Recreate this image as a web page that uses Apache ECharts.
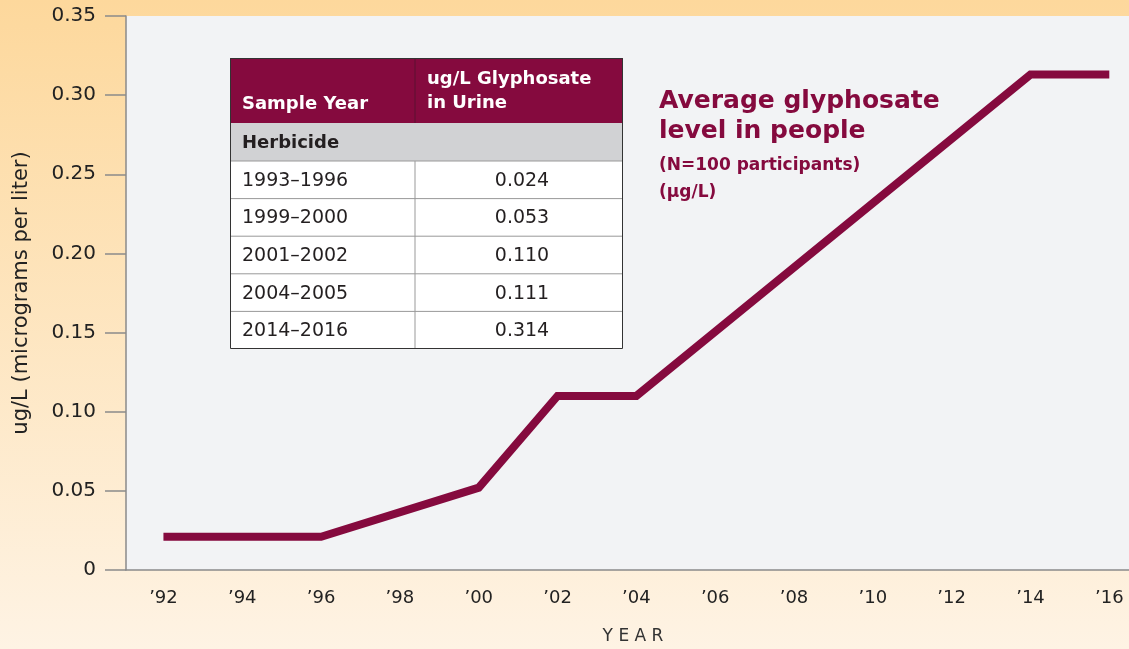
<!DOCTYPE html>
<html><head><meta charset="utf-8">
<script src="https://cdn.jsdelivr.net/npm/echarts@6/dist/echarts.min.js"></script>
<style>html,body{margin:0;padding:0;}#c{width:1129px;height:649px;}</style>
</head><body><div id="c"></div>
<script>
// ---- data ----
var years = [1992, 1996, 2000, 2002, 2004, 2014, 2016];
var levels = [0.021, 0.021, 0.052, 0.110, 0.110, 0.313, 0.313];
var xTickYears = [1992, 1994, 1996, 1998, 2000, 2002, 2004, 2006, 2008, 2010, 2012, 2014, 2016];
var tableHeaders = ['Sample Year', 'ug/L Glyphosate\nin Urine'];
var tableGroup = 'Herbicide';
var tableYears = ['1993–1996', '1999–2000', '2001–2002', '2004–2005', '2014–2016'];
var tableValues = [0.024, 0.053, 0.110, 0.111, 0.314];
var noteLines = ['Average glyphosate', 'level in people', '(N=100 participants)', '(µg/L)'];

var MAROON = '#850A3E';
var FONT = '"DejaVu Sans", sans-serif';

// ---- table graphic ----
var tL = 230, tR = 623, tM = 415, tTop = 58, hBot = 123, gBot = 161, rowH = 37.6;
var children = [];
children.push({type:'rect', shape:{x:tL, y:tTop, width:tR-tL, height:hBot-tTop}, style:{fill:MAROON}});
children.push({type:'rect', shape:{x:tL, y:hBot, width:tR-tL, height:gBot-hBot}, style:{fill:'#D1D2D4'}});
children.push({type:'rect', shape:{x:tL, y:gBot, width:tR-tL, height:rowH*tableYears.length}, style:{fill:'#FFFFFF'}});
children.push({type:'line', shape:{x1:tM, y1:tTop, x2:tM, y2:hBot}, style:{stroke:'#5a1030', lineWidth:1}});
children.push({type:'line', shape:{x1:tM, y1:gBot, x2:tM, y2:gBot+rowH*tableYears.length}, style:{stroke:'#999', lineWidth:1}});
children.push({type:'text', style:{x:tL+12, y:104, text:tableHeaders[0], fill:'#fff', font:'bold 18px '+FONT, textVerticalAlign:'middle'}});
children.push({type:'text', style:{x:tM+12, y:91, text:tableHeaders[1], fill:'#fff', font:'bold 18px '+FONT, textVerticalAlign:'middle', lineHeight:24}});
children.push({type:'text', style:{x:tL+12, y:(hBot+gBot)/2+1, text:tableGroup, fill:'#231F20', font:'bold 18px '+FONT, textVerticalAlign:'middle'}});
for (var i=0;i<tableYears.length;i++){
  var ry = gBot + rowH*i;
  if (i>0) children.push({type:'line', shape:{x1:tL, y1:ry, x2:tR, y2:ry}, style:{stroke:'#999', lineWidth:1}});
  children.push({type:'text', style:{x:tL+12, y:ry+rowH/2+1, text:tableYears[i], fill:'#231F20', font:'19px '+FONT, textVerticalAlign:'middle'}});
  children.push({type:'text', style:{x:(tM+tR)/2+3, y:ry+rowH/2+1, text:tableValues[i].toFixed(3), fill:'#231F20', font:'19px '+FONT, textAlign:'center', textVerticalAlign:'middle'}});
}
children.push({type:'line', shape:{x1:tL, y1:gBot, x2:tR, y2:gBot}, style:{stroke:'#999', lineWidth:1}});
children.push({type:'rect', shape:{x:tL+0.5, y:tTop+0.5, width:tR-tL-1, height:gBot+rowH*tableYears.length-tTop-1}, style:{fill:'none', stroke:'#333', lineWidth:1}});

// ---- annotation ----
children.push({type:'text', style:{x:659, y:101, text:noteLines[0], fill:MAROON, font:'bold 25px '+FONT, textVerticalAlign:'middle'}});
children.push({type:'text', style:{x:659, y:131, text:noteLines[1], fill:MAROON, font:'bold 25px '+FONT, textVerticalAlign:'middle'}});
children.push({type:'text', style:{x:659, y:166, text:noteLines[2], fill:MAROON, font:'bold 17px '+FONT, textVerticalAlign:'middle'}});
children.push({type:'text', style:{x:659, y:193, text:noteLines[3], fill:MAROON, font:'bold 17px '+FONT, textVerticalAlign:'middle'}});
// x-axis title
children.push({type:'text', style:{x:633, y:637, text:'Y E A R', fill:'#333', font:'17px '+FONT, textAlign:'center', textVerticalAlign:'middle'}});

var chart = echarts.init(document.getElementById('c'), null, {renderer:'canvas'});
chart.setOption({
  animation:false,
  backgroundColor:{type:'linear', x:0, y:0, x2:0, y2:1, colorStops:[{offset:0,color:'#FDD89C'},{offset:1,color:'#FEF3E4'}]},
  grid:{left:126, right:0, top:16, bottom:79, show:true, backgroundColor:'#F2F3F5', borderWidth:0, containLabel:false, outerBoundsMode:'none'},
  xAxis:{
    type:'value', min:1991.05, max:2016.5,
    splitLine:{show:false},
    axisLine:{show:true, lineStyle:{color:'#8a8a8a', width:1.5}},
    axisTick:{show:false},
    axisLabel:{customValues:xTickYears, formatter:function(v){return '’'+String(v).slice(2);}, color:'#222', fontSize:18, fontFamily:FONT, margin:19}
  },
  yAxis:{
    type:'value', min:0, max:0.35, interval:0.05,
    name:'ug/L (micrograms per liter)', nameLocation:'middle', nameGap:94,
    nameTextStyle:{color:'#222', fontSize:21, fontFamily:FONT},
    splitLine:{show:false},
    axisLine:{show:true, lineStyle:{color:'#8a8a8a', width:1.5}},
    axisTick:{show:true, length:21, lineStyle:{color:'#8a8a8a', width:1.5}},
    axisLabel:{formatter:function(v){return v===0?'0':v.toFixed(2);}, color:'#222', fontSize:20, fontFamily:FONT, margin:30}
  },
  series:[{
    type:'line', data:years.map(function(y,i){return [y, levels[i]];}),
    symbol:'none', lineStyle:{color:MAROON, width:8, join:'miter', cap:'butt'}
  }],
  graphic:[{type:'group', children:children}]
});
</script></body></html>
